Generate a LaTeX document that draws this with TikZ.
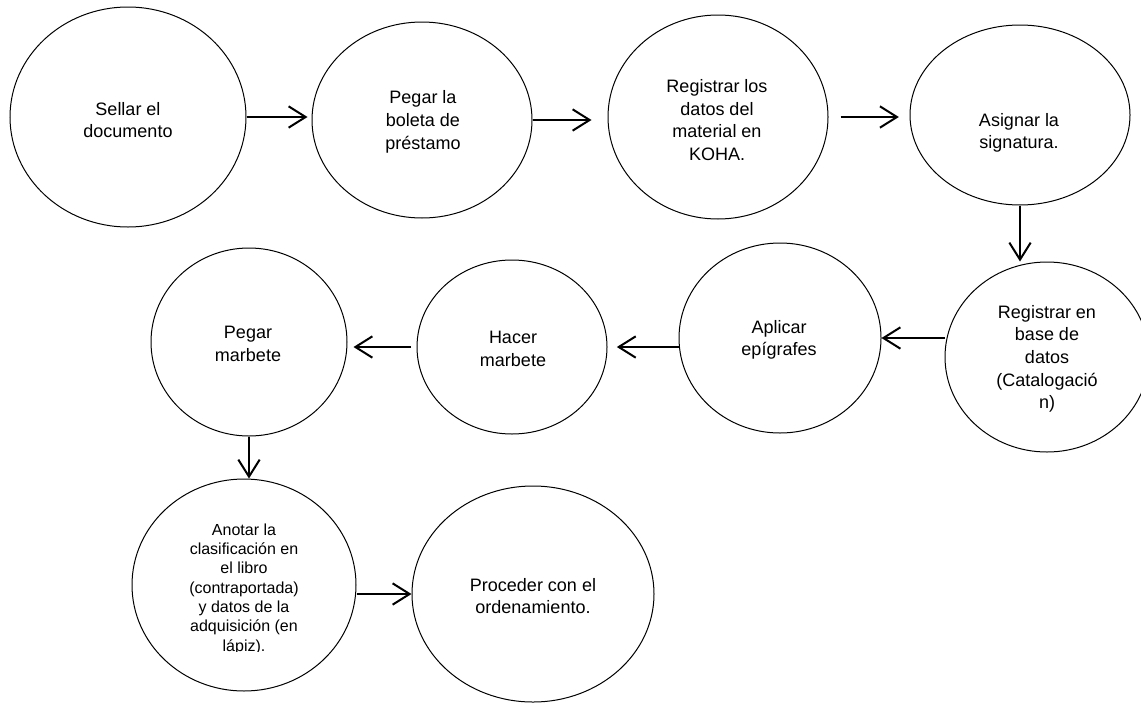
\documentclass[tikz,border=0pt]{standalone}
\usepackage{fontspec}
\setmainfont{Liberation Sans}
\usetikzlibrary{shapes.geometric,arrows.meta}
\begin{document}
\begin{tikzpicture}[x=0.75pt,y=-0.75pt,
  ell/.style 2 args={draw=black, line width=0.75pt, ellipse, minimum width=#1*1.5pt, minimum height=#2*1.5pt, inner sep=0pt},
  txt/.style={align=center, inner sep=0pt, font=\fontsize{13.5pt}{17pt}\selectfont},
  small/.style={align=center, inner sep=0pt, font=\fontsize{12pt}{14.5pt}\selectfont},
  arr/.style={line width=1.5pt, -{Straight Barb[length=12.75pt,width=16pt]}}
]
\fill[white] (0,0) rectangle (1141,703);
\useasboundingbox (0,0) rectangle (1141,703);

\node[ell={118}{110}] (e1) at (128,117) {};
\node[ell={110}{98}] (e2) at (422,120) {};
\node[ell={110}{102}] (e3) at (718,117) {};
\node[ell={110}{90}] (e4) at (1020,115) {};
\node[ell={102}{95}] (e5) at (1047,357) {};
\node[ell={101}{95}] (e6) at (780,338) {};
\node[ell={95}{87}] (e7) at (512,347) {};
\node[ell={98}{94}] (e8) at (249,342) {};
\node[ell={112}{106}] (e9) at (244,585) {};
\node[ell={121}{108}] (e10) at (533,594) {};

\node[txt] (t1) at (128,120) {Sellar el\\documento};
\node[txt] (t2) at (423,122) {Pegar la\\boleta de\\préstamo};
\node[txt] (t3) at (717,120) {Registrar los\\datos del\\material en\\KOHA.};
\node[txt] (t4) at (1019,133) {Asignar la\\signatura.};
\node[txt] (t5) at (1047,359) {Registrar en\\base de\\datos\\(Catalogació\\n)};
\node[txt] (t6) at (779,340) {Aplicar\\epígrafes};
\node[txt] (t7) at (513,349) {Hacer\\marbete};
\node[txt] (t8) at (248,344) {Pegar\\marbete};
\begin{scope}
\clip (130,470) rectangle (360,651);
\node[small] (t9) at (244,589) {Anotar la\\clasificación en\\el libro\\(contraportada)\\y datos de la\\adquisición (en\\lápiz).};
\end{scope}
\node[txt] (t10) at (533,596) {Proceder con el\\ordenamiento.};

\draw[arr,shorten >=3pt] (e1.east) -- (e1.east -| e2.west);
\draw[arr,shorten >=12pt] (e2.east) -- (e2.east -| e3.west);
\draw[arr,shorten <=9pt,shorten >=8pt] (e3.east) -- (e3.east -| e4.west);
\draw[arr] (e4.south) -- (e4.south |- e5.north);
\draw[arr] (e6.east -| e5.west) -- (e6.east);
\draw[arr,shorten >=7pt] (e7.east -| e6.west) -- (e7.east);
\draw[arr,shorten <=4pt,shorten >=4.5pt] (e7.west) -- (e7.west -| e8.east);
\draw[arr] (e8.south) -- (e8.south |- e9.north);
\draw[arr] (e10.west -| e9.east) -- (e10.west);
\end{tikzpicture}
\end{document}
